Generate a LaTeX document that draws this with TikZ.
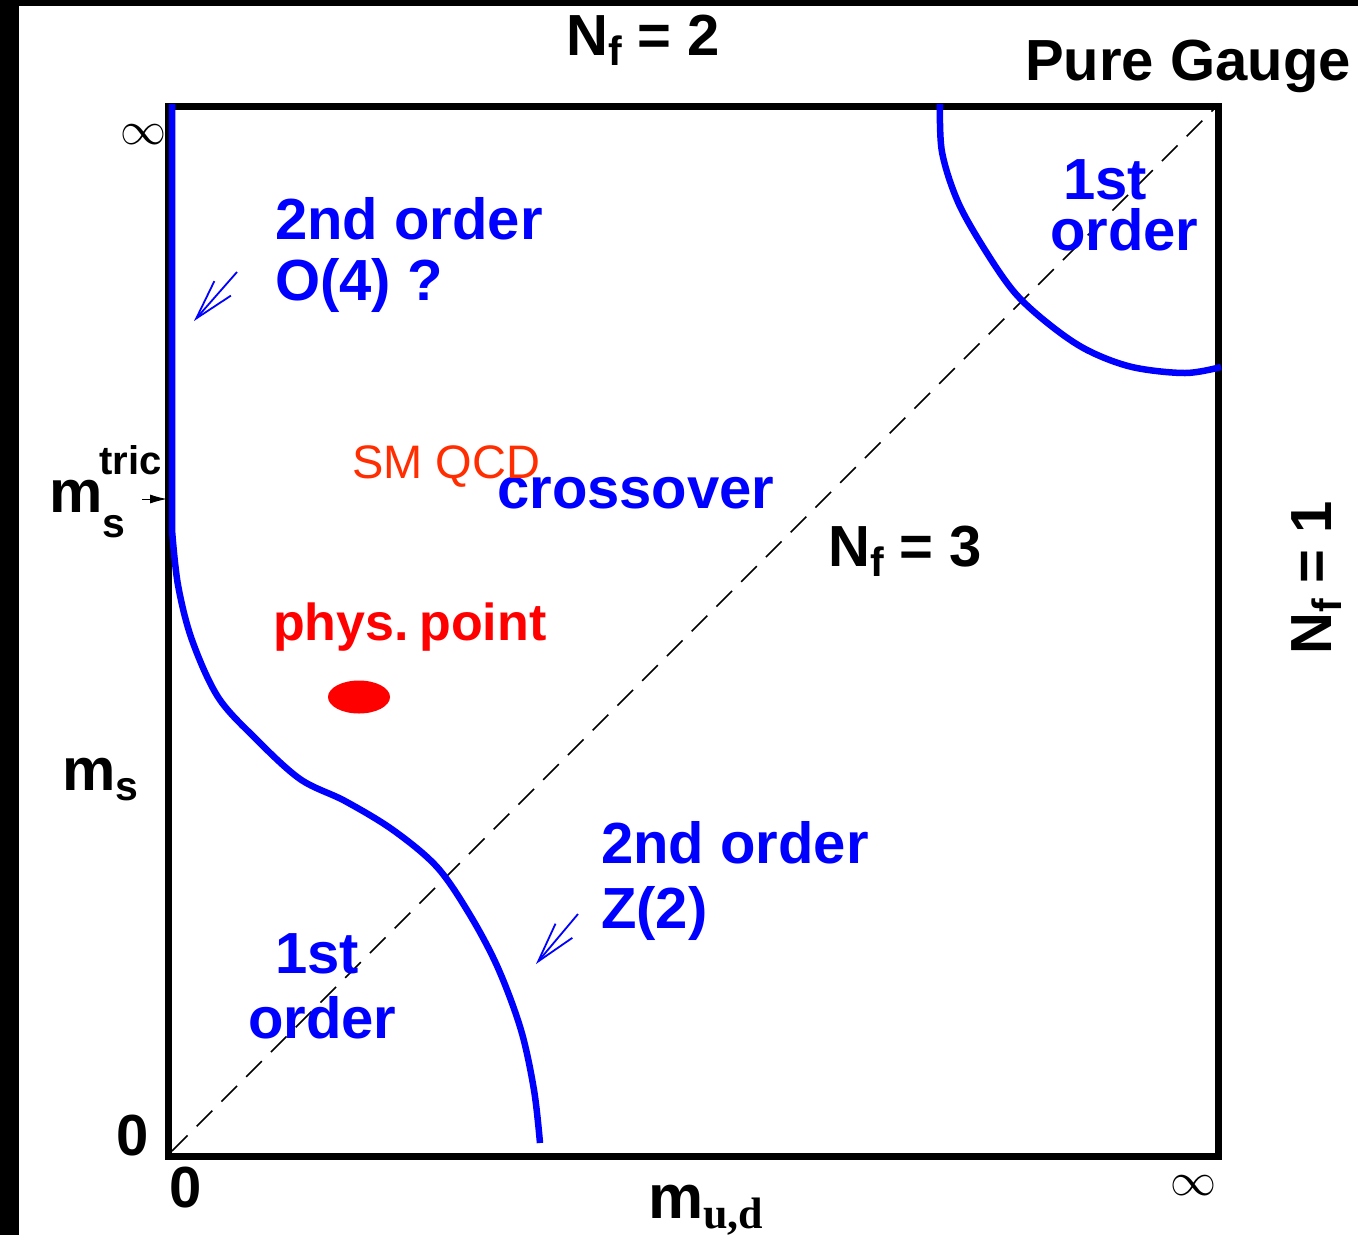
\documentclass[tikz,border=0pt]{standalone}
\usepackage{fontspec}
\setmainfont{Liberation Sans}
\newfontfamily\timesf{Liberation Serif}
\usetikzlibrary{arrows.meta,shapes.geometric}
\newcommand{\fs}[1]{\fontsize{#1}{#1}\selectfont}
\newcommand{\lsub}[2]{\raisebox{-#2pt}{\fs{41}#1}}

\begin{document}
\begin{tikzpicture}[x=1pt,y=-1pt,
  lab/.style={font=\bfseries\fs{58}, inner sep=0pt, anchor=base west},
  blu/.style={lab, text=blue},
  inf/.style={inner sep=0pt},
  curve/.style={blue, line width=6.5pt},
  arr/.style={blue, line width=1.8pt, -{Straight Barb[length=40pt,width=22pt]}}]
\useasboundingbox (0,0) rectangle (1358,1235);
\fill (0,0) rectangle (19,1235);
\fill (0,0) rectangle (1358,6);
% frame and diagonal
\draw[line width=7pt] (168,106) rectangle (1218,1156);
\coordinate (o) at (172,1151);
\coordinate (pg) at (1215,108);
\draw[line width=1.6pt, dash pattern=on 22pt off 13pt] (o) -- (pg);
% phase boundaries
\draw[curve] (172,104) -- plot[smooth, tension=0.55] coordinates {(172,530) (178,585) (192,640) (218,697) (255,738) (300,779) (345,801) (393,830) (437,867) (470,915) (498,968) (521,1030) (534,1090) (540,1143)};
\draw[curve] plot[smooth, tension=0.55] coordinates {(940,104) (942,152) (958,202) (985,250) (1015,293) (1050,325) (1087,350) (1132,367) (1185,373) (1221,367)};
% labels
\node[lab] (nf2) at (566,55) {N\lsub{f}{10} = 2};
\node[lab] (pure) at (1025,80) {Pure Gauge};
\node[lab, rotate=90] (nf1) at (1331,655) {N\lsub{f}{10} = 1};
\node[lab] (nf3) at (828,566) {N\lsub{f}{10} = 3};
\node[inf] (infl) at (143,135) {\scalebox{4.6}{$\infty$}};
\node[inf] (infr) at (1193,1186) {\scalebox{4.6}{$\infty$}};
\node[lab] (zl) at (116,1155) {0};
\node[lab] (zb) at (169,1207) {0};
\node[lab, font=\bfseries\fs{60}] (mtric) at (49,512) {m\rlap{\kern-3pt\raisebox{38pt}{\fs{40}tric}}\lsub{s}{25}};
\node[lab, font=\bfseries\fs{60}] (ms) at (62,790) {m\lsub{s}{10}};
\node[lab, font=\bfseries\fs{62}] (mud) at (648,1218) {m\raisebox{-10pt}{\timesf\bfseries\fs{44}u,d}};
\node[blu] (o4) at (275,239) {2nd order};
\node[blu] (o4q) at (275,300) {O(4) ?};
\node[blu] (fo1) at (1063,199) {1st};
\node[blu] (fo1b) at (1050,250) {order};
\node[blu] (cross) at (497,508) {crossover};
\node[lab, font=\fs{47}, text={rgb,255:red,255;green,45;blue,0}] (smqcd) at (352,478) {SM QCD};
\node[lab, text=red, font=\bfseries\fs{52}] (phys) at (273,640) {phys.\kern-4pt\ point};
\node[blu] (z2) at (601,863) {2nd order};
\node[blu] (z2b) at (601,928) {Z(2)};
\node[blu] (fo2) at (275,973) {1st};
\node[blu] (fo2b) at (248,1038) {order};
\node[ellipse, fill=red, minimum width=62pt, minimum height=33pt, inner sep=0pt] (pt) at (359,697) {};
% arrows
\coordinate (a1) at (237,272); \coordinate (b1) at (194,321);
\coordinate (a2) at (578,914); \coordinate (b2) at (536,964);
\draw[arr] (a1) -- (b1);
\draw[arr] (a2) -- (b2);
\coordinate (t1) at (142,499); \coordinate (t2) at (167,499);
\draw[line width=1pt, -{Latex[length=17pt,width=9pt]}] (t1) -- (t2);
\end{tikzpicture}
\end{document}
